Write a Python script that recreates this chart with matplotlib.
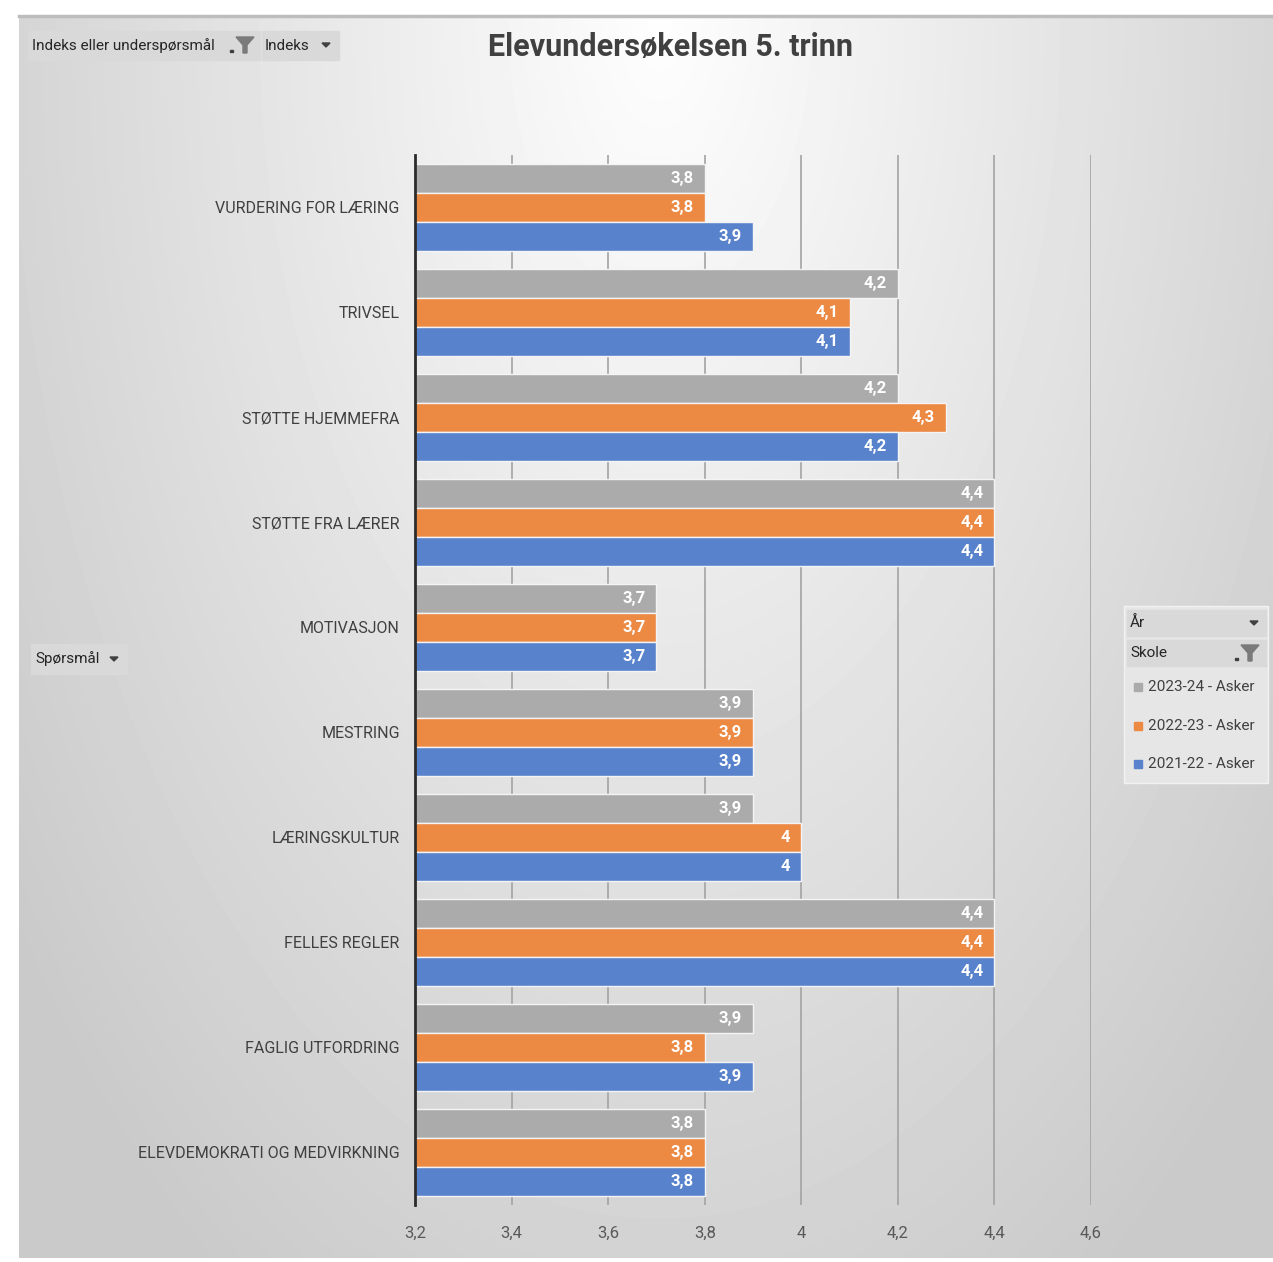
"""
Elevundersøkelsen 5. trinn - gjenskaping av Excel-pivotdiagram.
Skriver out.png.
"""
import matplotlib
matplotlib.use("Agg")
import matplotlib.pyplot as plt
from matplotlib.patches import Rectangle, Polygon
import numpy as np

plt.rcParams["font.family"] = ["Roboto", "DejaVu Sans"]

# --- Data ---
categories = [
    "VURDERING FOR LÆRING",
    "TRIVSEL",
    "STØTTE HJEMMEFRA",
    "STØTTE FRA LÆRER",
    "MOTIVASJON",
    "MESTRING",
    "LÆRINGSKULTUR",
    "FELLES REGLER",
    "FAGLIG UTFORDRING",
    "ELEVDEMOKRATI OG MEDVIRKNING",
]
series_names = ["2023-24 - Asker", "2022-23 - Asker", "2021-22 - Asker"]
v_2023_24 = [3.8, 4.2, 4.2, 4.4, 3.7, 3.9, 3.9, 4.4, 3.9, 3.8]
v_2022_23 = [3.8, 4.1, 4.3, 4.4, 3.7, 3.9, 4.0, 4.4, 3.8, 3.8]
v_2021_22 = [3.9, 4.1, 4.2, 4.4, 3.7, 3.9, 4.0, 4.4, 3.9, 3.8]
x_ticks = [3.2, 3.4, 3.6, 3.8, 4.0, 4.2, 4.4, 4.6]

colors = ["#ababab", "#ec8943", "#5882cb"]
text_dark = "#404040"

W, H = 1273, 1262
fig = plt.figure(figsize=(W / 100, H / 100), dpi=100)
fig.patch.set_facecolor("white")


def fx(x):
    return x / W


def fy(y):
    return 1 - y / H


def box(x0, y0, x1, y1, **kw):
    r = Rectangle((fx(x0), fy(y1)), fx(x1) - fx(x0), fy(y0) - fy(y1),
                  transform=fig.transFigure, **kw)
    fig.add_artist(r)
    return r


def ftext(x, y, s, **kw):
    fig.text(fx(x), fy(y), s, **kw)


# Bakgrunn med gradient (lys midt oppe, gråere mot kantene)
bg = fig.add_axes([fx(19), fy(1258), fx(1273) - fx(19), fy(16) - fy(1258)])
gx, gy = np.meshgrid(np.linspace(19, 1273, 300), np.linspace(16, 1258, 300))
d = np.sqrt(((gx - 660) / 760) ** 2 + ((gy - 20) / 1400) ** 2)
shade = np.clip(0.995 - 0.19 * d, 0.79, 1.0)
bg.imshow(shade, cmap="gray", vmin=0, vmax=1, aspect="auto",
          extent=(0, 1, 0, 1), interpolation="bilinear")
bg.set_axis_off()
bg.set_zorder(0)
# kantlinje oppe
fig.add_artist(plt.Line2D([fx(19), fx(1273)], [fy(16), fy(16)], color="#bdbdbd", lw=2.5))

# --- Hoveddiagram ---
ax = fig.add_axes([fx(415), fy(1205), fx(1091) - fx(415), fy(155) - fy(1205)])
ax.set_facecolor("none")
ax.set_zorder(2)

y = np.arange(len(categories))
step = 0.276
for i, (vals, c) in enumerate(zip([v_2023_24, v_2022_23, v_2021_22], colors)):
    pos = y + (i - 1) * step
    bars = ax.barh(pos, [v - 3.2 for v in vals], left=3.2, height=step,
                   color=c, edgecolor="#f4f4f4", linewidth=1.0, zorder=3)
    for b, v in zip(bars, vals):
        lab = f"{v:g}".replace(".", ",")
        ax.annotate(lab, (b.get_x() + b.get_width(), b.get_y() + b.get_height() / 2),
                    xytext=(-8, 0), textcoords="offset points",
                    ha="right", va="center", color="white",
                    fontsize=12, fontweight="bold", zorder=4)

ax.set_xlim(3.2, 4.6)
ax.set_ylim(len(categories) - 0.5, -0.5)
ax.set_xticks(x_ticks)
ax.set_xticklabels([f"{t:g}".replace(".", ",") for t in x_ticks],
                   fontsize=12, color="#595959")
ax.set_yticks(y)
ax.set_yticklabels(categories, fontsize=11.5, color=text_dark)
ax.tick_params(axis="both", length=0)
ax.tick_params(axis="x", pad=15)
ax.tick_params(axis="y", pad=11)
ax.grid(axis="x", color="#a3a3a3", linewidth=1.2, zorder=1)
ax.set_axisbelow(True)
for s in ["top", "right", "bottom"]:
    ax.spines[s].set_visible(False)
ax.spines["left"].set_color("#2b2b2b")
ax.spines["left"].set_linewidth(2)
ax.spines["left"].set_zorder(5)

# Tittel
ftext(670, 47, "Elevundersøkelsen 5. trinn", ha="center", va="center",
      fontsize=22, fontweight="bold", color=text_dark)

# --- Pivot-knapper ---
btn = "#d9d9d9"


def arrow(x, y):
    p = Polygon([(fx(x - 4), fy(y - 2)), (fx(x + 4), fy(y - 2)), (fx(x), fy(y + 2))],
                closed=True, transform=fig.transFigure, color="#404040")
    fig.add_artist(p)


def funnel(x, y):
    pts = [(x - 9, y - 8), (x + 9, y - 8), (x + 2, y), (x + 2, y + 8),
           (x - 2, y + 8), (x - 2, y)]
    fig.add_artist(Polygon([(fx(a), fy(b)) for a, b in pts], closed=True,
                           transform=fig.transFigure, color="#7a7a7a"))
    box(x - 15, y + 5, x - 12, y + 7, color="#404040")


box(28, 31, 260, 60, color=btn)
ftext(32, 45.5, "Indeks eller underspørsmål", ha="left", va="center",
      fontsize=11, color="#262626")
funnel(245, 45)
box(262, 31, 339, 60, color=btn)
ftext(265, 45.5, "Indeks", ha="left", va="center", fontsize=11, color="#262626")
arrow(326, 45)

box(31, 644, 127, 674, color=btn)
ftext(35, 659, "Spørsmål", ha="left", va="center", fontsize=11, color="#262626")
arrow(114, 659)

# --- Forklaring ---
box(1124, 606, 1268, 783, facecolor="#e6e6e6", edgecolor="#f2f2f2", lw=1)
box(1127, 610, 1266, 636, color=btn)
ftext(1130, 623, "År", ha="left", va="center", fontsize=11, color="#262626")
arrow(1254, 623)
box(1127, 640, 1266, 666, color=btn)
ftext(1130, 653, "Skole", ha="left", va="center", fontsize=11, color="#262626")
funnel(1250, 653)

for k, (name, c) in enumerate(zip(series_names, colors)):
    yy = 687 + k * 38.5
    box(1134, yy - 4, 1142, yy + 4, color=c)
    ftext(1148, yy, name, ha="left", va="center", fontsize=11, color=text_dark)

fig.savefig("out.png", dpi=100)
